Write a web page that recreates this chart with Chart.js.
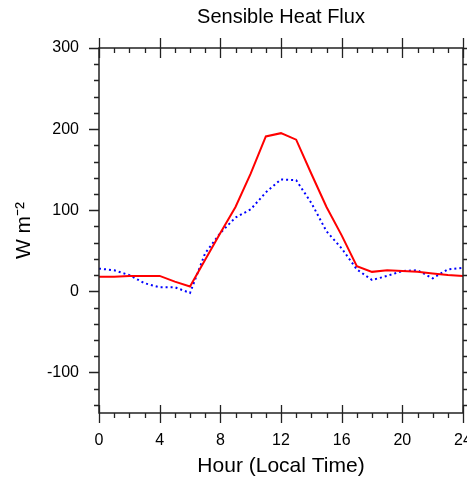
<!DOCTYPE html>
<html>
<head>
<meta charset="utf-8">
<script src="https://cdn.jsdelivr.net/npm/chart.js@4.4.1/dist/chart.umd.min.js"></script>
<style>
  body { margin: 0; background: #fff; }
  #mycanvas { display: block; }
</style>
</head>
<body>
<canvas id="mycanvas" width="467" height="480"></canvas>
<script>
// hours of the day
var hours = [0, 1, 2, 3, 4, 5, 6, 7, 8, 9, 10, 11, 12, 13, 14, 15, 16, 17, 18, 19, 20, 21, 22, 23, 24];
// red solid run
var fluxRed = [18, 18, 19, 19, 19, 12, 6, 39, 72, 104, 145, 191, 195, 187, 145, 104, 69, 31, 24, 26, 25, 24, 22, 20, 19];
// blue dotted run
var fluxBlue = [28, 26, 20, 10, 5, 5, -2, 47, 72, 91, 101, 122, 138, 137, 109, 74, 53, 27, 14, 19, 25, 26, 16, 27, 29];

var xTicks = [0, 4, 8, 12, 16, 20, 24];
var yTicks = [-100, 0, 100, 200, 300];

var fontFam = '"Liberation Sans", Arial, Helvetica, sans-serif';

function toPoints(ys) {
    var pts = [];
    for (var i in hours) {
        pts.push({x: hours[i], y: ys[i]});
    }
    return pts;
}

// white page + NCL style frame and tick marks
var frameTicks = {
    id: 'frameTicks',
    beforeDraw: function(chart) {
        var c = chart.ctx;
        c.save();
        c.fillStyle = '#fff';
        c.fillRect(0, 0, chart.width, chart.height);
        c.restore();
    },
    afterDraw: function(chart) {
        var c = chart.ctx, a = chart.chartArea;
        var xs = chart.scales.x, ys = chart.scales.y;
        c.save();
        c.strokeStyle = '#222';
        c.lineWidth = 1.5;
        c.strokeRect(a.left, a.top, a.right - a.left, a.bottom - a.top);
        c.beginPath();
        for (var h = 0; h <= 24; h++) {
            var px = Math.round(xs.getPixelForValue(h)) + 0.5;
            var major = h % 4 === 0;
            if (major) {
                c.moveTo(px, a.bottom - 8); c.lineTo(px, a.bottom + 10);
                c.moveTo(px, a.top - 10); c.lineTo(px, a.top + 10);
            } else {
                c.moveTo(px, a.bottom); c.lineTo(px, a.bottom + 5);
                c.moveTo(px, a.top); c.lineTo(px, a.top + 5);
            }
        }
        for (var v = -140; v <= 300; v += 20) {
            var py = Math.round(ys.getPixelForValue(v)) + 0.5;
            var big = v % 100 === 0;
            c.moveTo(a.left - (big ? 10 : 5), py); c.lineTo(a.left, py);
            c.moveTo(a.right, py); c.lineTo(a.right + (big ? 10 : 5), py);
        }
        c.lineWidth = 1.3;
        c.stroke();
        c.restore();
    }
};

var ctx = document.getElementById('mycanvas');
var myChart = new Chart(ctx, {
    type: 'line',
    data: {
        datasets: [{
            label: 'red',
            data: toPoints(fluxRed),
            borderColor: '#ff0000',
            borderWidth: 2,
            pointRadius: 0,
            tension: 0
        }, {
            label: 'blue',
            data: toPoints(fluxBlue),
            borderColor: '#0000ff',
            borderWidth: 2,
            borderDash: [2, 3],
            pointRadius: 0,
            tension: 0
        }]
    },
    options: {
        responsive: false,
        animation: false,
        layout: { padding: { left: 0, right: 4, top: 0, bottom: 0 } },
        plugins: {
            legend: { display: false },
            tooltip: { enabled: false },
            title: {
                display: true,
                fullSize: false,
                text: 'Sensible Heat Flux',
                color: '#000',
                font: { family: fontFam, size: 20, weight: 'normal' },
                padding: { top: 5, bottom: 19 }
            }
        },
        scales: {
            x: {
                type: 'linear',
                min: 0,
                max: 24,
                grid: { display: false },
                border: { display: false },
                afterBuildTicks: function(s) { s.ticks = xTicks.map(function(v) { return {value: v}; }); },
                afterFit: function(s) { s.height = 67; s.paddingLeft = 0; s.paddingRight = 0; },
                ticks: {
                    color: '#000',
                    padding: 10,
                    maxRotation: 0,
                    autoSkip: false,
                    font: { family: fontFam, size: 16 }
                },
                title: {
                    display: true,
                    text: 'Hour (Local Time)',
                    color: '#000',
                    font: { family: fontFam, size: 21 },
                    padding: { top: 0, bottom: 1 }
                }
            },
            y: {
                type: 'linear',
                min: -150,
                max: 300,
                grid: { display: false },
                border: { display: false },
                afterBuildTicks: function(s) { s.ticks = yTicks.map(function(v) { return {value: v}; }); },
                afterFit: function(s) { s.width = 99; s.paddingTop = 0; s.paddingBottom = 0; },
                ticks: {
                    color: '#000',
                    padding: 12,
                    autoSkip: false,
                    font: { family: fontFam, size: 16 }
                },
                title: {
                    display: true,
                    text: 'W m\u207B\u00B2',
                    color: '#000',
                    font: { family: fontFam, size: 21 },
                    padding: { top: 12, bottom: 0 }
                }
            }
        }
    },
    plugins: [frameTicks]
});
</script>
</body>
</html>
